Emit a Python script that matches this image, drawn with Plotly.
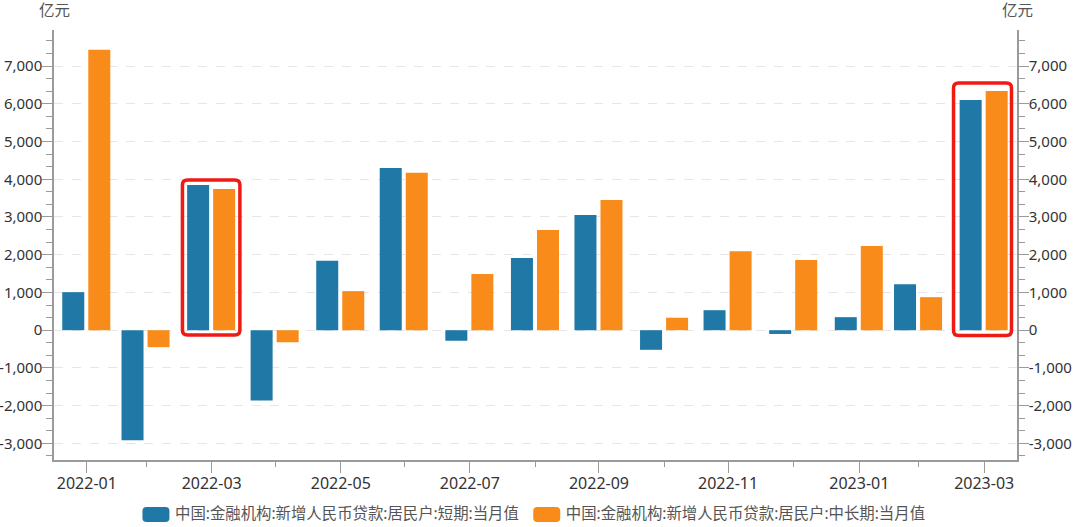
import plotly.graph_objects as go

# month-end dates, the bars sit on a real time axis
months = ['2022-01-31', '2022-02-28', '2022-03-31', '2022-04-30', '2022-05-31', '2022-06-30', '2022-07-31',
          '2022-08-31', '2022-09-30', '2022-10-31', '2022-11-30', '2022-12-31', '2023-01-31', '2023-02-28',
          '2023-03-31']
short_term = [1008, -2918, 3846, -1860, 1840, 4300, -280, 1915, 3050, -520, 530, -100, 345, 1220, 6100]
long_term = [7430, -450, 3740, -320, 1035, 4170, 1490, 2655, 3450, 330, 2095, 1860, 2230, 875, 6340]
short_name = '中国:金融机构:新增人民币贷款:居民户:短期:当月值'
long_name = '中国:金融机构:新增人民币贷款:居民户:中长期:当月值'
y_ticks = [-3000, -2000, -1000, 0, 1000, 2000, 3000, 4000, 5000, 6000, 7000]
y_labels = ['-3,000', '-2,000', '-1,000', '0', '1,000', '2,000', '3,000', '4,000', '5,000', '6,000', '7,000']
unit = '亿元'

FONT = '"Noto Sans", "Noto Sans CJK SC", sans-serif'
W, H = 1080, 527
L, R, T, B = 53.5, 1017, 30, 460
AXIS = '#9a9a9a'
BLUE = '#1f78a6'
ORANGE = '#f98b1a'
RED = '#f01a14'
DAY = 86400000
yrange = [-3440, 7955]


def rounded_box(x0, y0, x1, y1, r=5):
    # pixel box to a paper-coordinates path with round corners
    def px(x):
        return (x - L) / (R - L)

    def py(y):
        return (B - y) / (B - T)

    return (f'M{px(x0 + r)},{py(y0)} L{px(x1 - r)},{py(y0)} Q{px(x1)},{py(y0)} {px(x1)},{py(y0 + r)} '
            f'L{px(x1)},{py(y1 - r)} Q{px(x1)},{py(y1)} {px(x1 - r)},{py(y1)} '
            f'L{px(x0 + r)},{py(y1)} Q{px(x0)},{py(y1)} {px(x0)},{py(y1 - r)} '
            f'L{px(x0)},{py(y0 + r)} Q{px(x0)},{py(y0)} {px(x0 + r)},{py(y0)} Z')


fig = go.Figure()
fig.add_trace(go.Bar(x=months, y=short_term, name=short_name, yaxis='y', width=10.4 * DAY, offset=-11.6 * DAY,
                     marker=dict(color=BLUE, line=dict(width=0))))
fig.add_trace(go.Bar(x=months, y=long_term, name=long_name, yaxis='y2', width=10.4 * DAY, offset=0.7 * DAY,
                     marker=dict(color=ORANGE, line=dict(width=0))))

yaxis_style = dict(range=yrange, tickmode='array', tickvals=y_ticks, ticktext=y_labels, ticks='outside', ticklen=10,
                   tickwidth=1, tickcolor=AXIS, showline=True, linecolor=AXIS, linewidth=1.5,
                   zeroline=False, automargin=False, ticklabelstandoff=-3,
                   tickfont=dict(family=FONT, size=15, color='#333333'),
                   minor=dict(dtick=1000 / 3, tick0=0, ticks='outside', ticklen=6, tickcolor=AXIS,
                              showgrid=False))

fig.update_layout(
    width=W, height=H, barmode='overlay', plot_bgcolor='white', paper_bgcolor='white',
    margin=dict(l=L, r=W - R, t=T, b=H - B, pad=0),
    font=dict(family=FONT, size=14, color='#555555'),
    xaxis=dict(type='date', range=['2022-01-15 12:00', '2023-04-15 12:00'], tickmode='array', tickvals=months[::2],
               tickformat='%Y-%m', ticks='outside', ticklen=11, tickwidth=1, tickcolor=AXIS, showline=True,
               linecolor=AXIS, linewidth=1.5, showgrid=False, tickangle=0, automargin=False, ticklabelstandoff=-3,
               tickfont=dict(family=FONT, size=16, color='#333333'),
               minor=dict(tickmode='array', tickvals=months[1::2], ticks='outside', ticklen=5, tickcolor=AXIS,
                          showgrid=False)),
    yaxis=dict(showgrid=True, gridcolor='#e6e6e6', griddash='dash', gridwidth=1, **yaxis_style),
    yaxis2=dict(overlaying='y', side='right', showgrid=False, **yaxis_style),
    legend=dict(orientation='h', xref='container', yref='container', x=0.5 - 8 / W, xanchor='center', y=0.025,
                yanchor='middle', font=dict(family=FONT, size=15.4, color='#555555'), itemwidth=32,
                bgcolor='rgba(0,0,0,0)'),
    showlegend=True,
    annotations=[
        dict(text=unit, xref='paper', yref='paper', x=0, y=1 + 20 / (B - T), showarrow=False, xanchor='center',
             yanchor='middle', font=dict(family=FONT, size=15.5, color='#555555')),
        dict(text=unit, xref='paper', yref='paper', x=1, y=1 + 20 / (B - T), showarrow=False, xanchor='center',
             yanchor='middle', font=dict(family=FONT, size=15.5, color='#555555')),
    ],
    shapes=[
        dict(type='path', xref='paper', yref='paper', path=rounded_box(182, 180, 239.5, 335),
             line=dict(color=RED, width=3.5)),
        dict(type='path', xref='paper', yref='paper', path=rounded_box(953.5, 83, 1011.5, 335.5),
             line=dict(color=RED, width=3.5)),
        # wider rounded swatches behind the legend's own keys
        dict(type='path', xref='paper', yref='paper', path=rounded_box(142, 507, 169, 522, r=4),
             fillcolor=BLUE, line=dict(width=0)),
        dict(type='path', xref='paper', yref='paper', path=rounded_box(533, 507, 560, 522, r=4),
             fillcolor=ORANGE, line=dict(width=0)),
    ],
)

fig.write_html('out.html', post_script="document.body.style.margin='0';", config=dict(displayModeBar=False))
